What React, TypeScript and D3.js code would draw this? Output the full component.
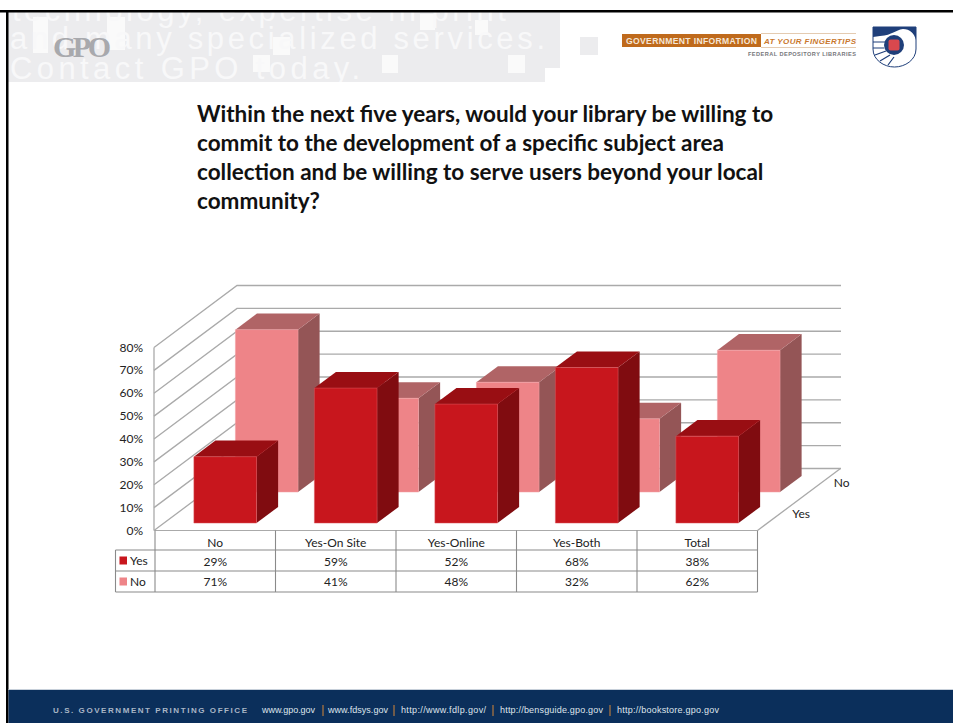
import * as d3 from "d3";

const categories = ["No", "Yes-On Site", "Yes-Online", "Yes-Both", "Total"];
const seriesNames = ["Yes", "No"];
const yesValues = [29, 59, 52, 68, 38];
const noValues = [71, 41, 48, 32, 62];
const yTicks = [0, 10, 20, 30, 40, 50, 60, 70, 80];
const titleLines = [
  "Within the next five years, would your library be willing to",
  "commit to the development of a specific subject area",
  "collection and be willing to serve users beyond your local",
  "community?",
];
// text, left edge, width
const footerLinks: [string, number, number][] = [
  ["www.gpo.gov", 262, 53],
  ["www.fdsys.gov", 328, 60],
  ["http://www.fdlp.gov/", 401, 85],
  ["http://bensguide.gpo.gov", 500, 103],
  ["http://bookstore.gpo.gov", 617, 102],
];
const footerBars = [323, 394, 493, 610];
// little white squares in the banner
const bannerSquares = [
  [33, 17, 15, 36], [107, 17, 18, 33], [253, 55, 17, 17], [273, 37, 17, 18],
  [382, 55, 16, 18], [508, 55, 17, 18], [420, 14, 15, 16], [475, 20, 13, 15],
];

const FONT = "Lato, 'Open Sans', sans-serif";
const SANS = "'Liberation Sans', sans-serif";
const GRID = "#aaaaaa";
const TABLE = "#8a8a8a";

const x = d3.scaleBand().domain(categories).range([155, 757.5]).paddingInner(0.48).paddingOuter(0.24);
const catBand = d3.scaleBand().domain(categories).range([155, 757.5]);
const depth = d3.scaleBand().domain(seriesNames).range([0, 1]).paddingInner(0.48).paddingOuter(0.24);
const y = d3.scaleLinear().domain([0, 80]).range([530.5, 347.5]);
const DX = 83;
const DY = 62;

const project = (px: number, v: number, d: number): [number, number] => [px + DX * d, y(v) - DY * d];
const poly = (pts: [number, number][]) => d3.line()(pts) + "Z";

function Bar({ cat, series, value, colors }: any) {
  const x0 = x(cat)!;
  const x1 = x0 + x.bandwidth();
  const d0 = depth(series)!;
  const d1 = d0 + depth.bandwidth();
  const front = poly([project(x0, 0, d0), project(x1, 0, d0), project(x1, value, d0), project(x0, value, d0)]);
  const top = poly([project(x0, value, d0), project(x1, value, d0), project(x1, value, d1), project(x0, value, d1)]);
  const side = poly([project(x1, 0, d0), project(x1, 0, d1), project(x1, value, d1), project(x1, value, d0)]);
  return (
    <g>
      <path d={side} fill={colors.side} />
      <path d={top} fill={colors.top} />
      <path d={front} fill={colors.front} stroke={colors.edge} strokeWidth={0.5} />
    </g>
  );
}

const yesColors = { front: "#c8161d", top: "#990e13", side: "#800c10", edge: "#dc5a60" };
const noColors = { front: "#ee8488", top: "#b06466", side: "#945556", edge: "#f3a5a8" };

export default function App() {
  const xLeft = 155;
  const xRight = 757.5;
  const tableRows = [530.5, 550, 571, 592];
  const legendLeft = 115.5;
  return (
    <svg width={953} height={723} style={{ position: "absolute", left: 0, top: 0, background: "#fff" }} fontFamily={FONT}>
      <defs>
        <clipPath id="banner">
          <rect x={8} y={12} width={552} height={70} />
        </clipPath>
      </defs>

      {/* banner */}
      <rect x={8} y={12} width={552} height={70} fill="#ececee" />
      <rect x={545} y={68} width={15} height={14} fill="#fff" />
      <g clipPath="url(#banner)" fill="#f8f8f9" fontFamily={SANS} fontSize={31}>
        {bannerSquares.map((s, i) => <rect key={i} x={s[0]} y={s[1]} width={s[2]} height={s[3]} fill="#fafafa" />)}
        <text x={12} y={21} letterSpacing={3.5}>technology, expertise in print</text>
        <text x={10} y={49} textLength={535}>and many specialized services.</text>
        <text x={10} y={79} textLength={350}>Contact GPO today.</text>
      </g>
      <rect x={580} y={37} width={18} height={18} fill="#ececee" />
      <text x={53} y={57} fontFamily="'Liberation Serif', serif" fontWeight="bold" fontSize={30} textLength={58} fill="#a8a9ad">GPO</text>

      {/* frame */}
      <rect x={0} y={10} width={953} height={2.5} fill="#000" />
      <rect x={6} y={10} width={2.5} height={713} fill="#000" />

      {/* FDLP logo */}
      <rect x={622} y={34} width={139} height={13} fill="#bf6a1c" />
      <text x={626} y={44} fontSize={8.6} fontWeight="bold" fill="#f5e6d6" fontFamily={SANS} textLength={131}>GOVERNMENT INFORMATION</text>
      <text x={764} y={44} fontSize={8} fontWeight="bold" fontStyle="italic" fill="#c9772c" fontFamily={SANS} textLength={92}>AT YOUR FINGERTIPS</text>
      <line x1={761} x2={856} y1={33.5} y2={33.5} stroke="#d9b48f" strokeWidth={0.7} />
      <line x1={761} x2={856} y1={47.5} y2={47.5} stroke="#d9b48f" strokeWidth={0.7} />
      <text x={748} y={56} fontSize={5.6} fontWeight="bold" fill="#77777b" fontFamily={SANS} textLength={108}>FEDERAL DEPOSITORY LIBRARIES</text>
      <g>
        <path d="M873,27 H916 V49 C916,60 905,67 894.5,67 C884,67 873,60 873,49 Z" fill="#fff" stroke="#1f3f7a" strokeWidth={1} />
        <path d="M873,27 H916 V40 C914,33 910,29 903,29 C895,30 893,35 880,36 L873,37 Z" fill="#1f3f7a" />
        <path d="M873,42 H886 M873,48 H884 M875,55 L886,51 M880,61 L890,55 M888,65 L894,57" stroke="#1f3f7a" strokeWidth={1.2} fill="none" />
        <circle cx={894} cy={45} r={10} fill="#1f3f7a" />
        <rect x={888.5} y={39.5} width={11} height={11} rx={2} fill="#d8484e" />
      </g>

      {/* title */}
      <g fontSize={22.5} fontWeight="bold" fill="#111">
        {titleLines.map((t, i) => <text key={i} x={197} y={121.5 + i * 29}>{t}</text>)}
      </g>

      {/* walls + floor */}
      <g stroke={GRID} strokeWidth={1.3} fill="none">
        {yTicks.map(t => {
          const a = project(xLeft - 1, t, 0);
          const b = project(xLeft - 1, t, 1);
          const c = project(xRight + 0.5, t, 1);
          return <path key={t} d={d3.line()([a, b, c])!} />;
        })}
        <line x1={xLeft - 1} x2={xLeft - 1} y1={y(80)} y2={y(0)} />
        <path d={d3.line()([project(xRight, 0, 0), project(xRight, 0, 1)])!} />
      </g>

      {/* bars, back row first */}
      {categories.map((c, i) => <Bar key={c} cat={c} series="No" value={noValues[i]} colors={noColors} />)}
      {categories.map((c, i) => <Bar key={c} cat={c} series="Yes" value={yesValues[i]} colors={yesColors} />)}

      {/* y axis labels */}
      <g fontSize={12} fill="#222" textAnchor="end">
        {yTicks.map(t => <text key={t} x={143} y={y(t) + 4}>{t}%</text>)}
      </g>

      {/* depth axis labels */}
      <g fontSize={12} fill="#222">
        {seriesNames.map(s => {
          const p = project(xRight, 0, depth(s)! + depth.bandwidth() / 2);
          return <text key={s} x={p[0] + 14} y={p[1] + 3}>{s}</text>;
        })}
      </g>

      {/* data table */}
      <g stroke={TABLE} strokeWidth={1.1} fill="none">
        <line x1={xLeft} x2={xRight} y1={tableRows[0]} y2={tableRows[0]} stroke={GRID} />
        {tableRows.slice(1).map(r => <line key={r} x1={legendLeft} x2={xRight} y1={r} y2={r} />)}
        <line x1={legendLeft} x2={legendLeft} y1={tableRows[1]} y2={tableRows[3]} />
        {categories.map(c => <line key={c} x1={catBand(c)} x2={catBand(c)} y1={tableRows[0]} y2={tableRows[3]} />)}
        <line x1={xRight} x2={xRight} y1={tableRows[0]} y2={tableRows[3]} />
      </g>
      <g fontSize={12} fill="#222" textAnchor="middle">
        {categories.map((c, i) => (
          <g key={c}>
            <text x={catBand(c)! + catBand.bandwidth() / 2} y={547}>{c}</text>
            <text x={catBand(c)! + catBand.bandwidth() / 2} y={565.5}>{yesValues[i]}%</text>
            <text x={catBand(c)! + catBand.bandwidth() / 2} y={586}>{noValues[i]}%</text>
          </g>
        ))}
      </g>
      {seriesNames.map((s, i) => (
        <g key={s}>
          <rect x={119.5} y={tableRows[i + 1] + 6.5} width={7.5} height={8} fill={i === 0 ? yesColors.front : noColors.front} />
          <text x={130} y={tableRows[i + 1] + 15} fontSize={12} fill="#222">{s}</text>
        </g>
      ))}

      {/* footer */}
      <rect x={8.5} y={690} width={945} height={33} fill="#0b2f5b" />
      <line x1={8.5} x2={953} y1={689.5} y2={689.5} stroke="#c7d0da" strokeWidth={1} />
      <text x={53} y={713} fontSize={8} fontWeight="bold" fill="#a9b6c6" fontFamily={SANS} textLength={194}>U.S. GOVERNMENT PRINTING OFFICE</text>
      <g fontSize={9} fill="#dfe5ec" fontFamily={SANS}>
        {footerLinks.map(([t, px, w]) => <text key={t} x={px} y={713} textLength={w}>{t}</text>)}
      </g>
      {footerBars.map(px => <line key={px} x1={px} x2={px} y1={705} y2={716} stroke="#b5793f" strokeWidth={1.2} />)}
    </svg>
  );
}
